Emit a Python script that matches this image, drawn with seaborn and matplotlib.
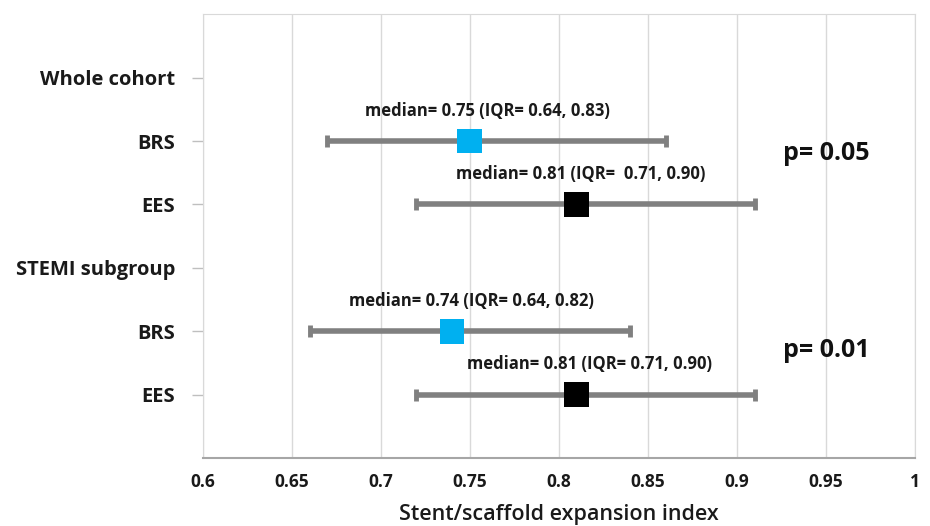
import numpy as np
import pandas as pd
import seaborn as sns
import matplotlib.pyplot as plt

rows = ["Whole cohort", "BRS", "EES", "STEMI subgroup", "BRS", "EES"]
groups = ["", "BRS", "EES", "", "BRS", "EES"]
median = [np.nan, 0.75, 0.81, np.nan, 0.74, 0.81]
low = [np.nan, 0.67, 0.72, np.nan, 0.66, 0.72]
high = [np.nan, 0.86, 0.91, np.nan, 0.84, 0.91]
notes = ["", "median= 0.75 (IQR= 0.64, 0.83)", "median= 0.81 (IQR=  0.71, 0.90)",
         "", "median= 0.74 (IQR= 0.64, 0.82)", "median= 0.81 (IQR= 0.71, 0.90)"]
pvals = ["p= 0.05", "p= 0.01"]
xticks = [0.6, 0.65, 0.7, 0.75, 0.8, 0.85, 0.9, 0.95, 1.0]
xtick_labels = ["0.6", "0.65", "0.7", "0.75", "0.8", "0.85", "0.9", "0.95", "1"]

df = pd.DataFrame({"row": rows, "group": groups, "median": median, "low": low, "high": high})
df["pos"] = np.arange(1, len(rows) + 1)
pts = df.dropna()

sns.set_style("white")
plt.rcParams["font.family"] = ["Open Sans", "DejaVu Sans"]

fig = plt.figure(figsize=(9.3, 5.26), dpi=100)
ax = fig.add_axes([0.218, 0.129, 0.766, 0.844])

# range bars
ax.errorbar(pts["median"], pts["pos"],
            xerr=[pts["median"] - pts["low"], pts["high"] - pts["median"]],
            fmt="none", ecolor="#808080", elinewidth=4, capsize=4, capthick=3.5, zorder=2)

sns.scatterplot(data=pts, x="median", y="pos", hue="group", marker="s", s=320,
                palette={"BRS": "#00B0F0", "EES": "#000000"}, edgecolor="none",
                legend=False, ax=ax, zorder=3)

# median text above each bar
text_dx = [0, 0.010, 0.002, 0, 0.011, 0.007]
for i, r in df.iterrows():
    if notes[i]:
        ax.text(r["median"] + text_dx[i], r["pos"] - 0.48, notes[i], ha="center", va="center",
                fontsize=12, fontweight="bold", color="#1a1a1a")

ax.text(0.926, 2.19, pvals[0], fontsize=18, fontweight="bold", va="center", color="#111111")
ax.text(0.926, 5.30, pvals[1], fontsize=18, fontweight="bold", va="center", color="#111111")

ax.set_xlim(0.6, 1.0)
ax.set_ylim(7, 0)
ax.set_xticks(xticks)
ax.set_xticklabels(xtick_labels, fontsize=12.5, fontweight="bold", color="#1a1a1a")
ax.set_yticks(df["pos"])
ax.set_yticklabels(rows, fontsize=14.5, fontweight="bold", color="#1a1a1a")
ax.grid(axis="x", color="#D9D9D9", linewidth=1)
ax.set_axisbelow(True)

ax.tick_params(axis="y", length=8, width=1, color="#BFBFBF", pad=12, left=True)
ax.tick_params(axis="x", length=0, pad=11)

ax.set_xlabel("Stent/scaffold expansion index", fontsize=15.5, fontweight="semibold",
              color="#1a1a1a", labelpad=9)
ax.set_ylabel("")

for s in ["top", "right", "left"]:
    ax.spines[s].set_color("#D9D9D9")
ax.spines["bottom"].set_color("#A6A6A6")
ax.spines["bottom"].set_linewidth(1.5)

fig.savefig("out.png", dpi=100)
